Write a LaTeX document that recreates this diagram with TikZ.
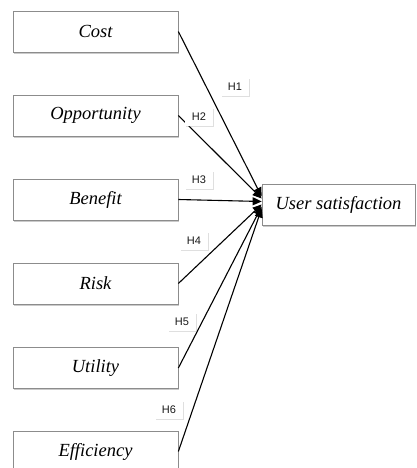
\documentclass[tikz,border=0pt]{standalone}
\usepackage{fontspec}
\setmainfont{Liberation Serif}
\newfontfamily\hfont{Liberation Sans}
\usetikzlibrary{arrows.meta,shadows}
\begin{document}
\begin{tikzpicture}[x=1pt,y=-1pt,
  varbox/.style={draw=black!45, line width=0.7pt, fill=white, minimum width=165pt, minimum height=41pt, inner sep=0pt,
    font=\fontsize{18.5}{20}\selectfont\itshape,
    drop shadow={shadow xshift=1.2pt, shadow yshift=-1.6pt, opacity=0.35, fill=black!60}},
  hlabel/.style={fill=white, minimum width=28pt, minimum height=18pt, inner sep=0pt,
    font=\hfont\fontsize{11}{12}\selectfont, text=black!90,
    drop shadow={shadow xshift=1pt, shadow yshift=-1.4pt, opacity=0.25, fill=black!50}},
  link/.style={line width=1.1pt, -{Triangle[length=9pt,width=8pt]}}
]
\useasboundingbox (0,0) rectangle (416,468);
\clip (0,0) rectangle (416,468);
\node[varbox] (cost) at (95.5,31.5) {Cost};
\node[varbox] (opp) at (95.5,115.5) {Opportunity};
\node[varbox] (ben) at (95.5,199.5) {Benefit};
\node[varbox] (risk) at (95.5,283.5) {Risk};
\node[varbox] (util) at (95.5,368) {Utility};
\node[varbox] (eff) at (95.5,451.5) {Efficiency};
\node[varbox, minimum width=153pt] (us) at (338.5,204.5) {User satisfaction};

\draw[link] (cost.east) -- ([yshift=8pt]us.west);
\draw[link] (opp.east) -- ([yshift=6pt]us.west);
\draw[link] (ben.east) -- ([yshift=3pt]us.west);
\draw[link] (risk.east) -- ([yshift=0pt]us.west);
\draw[link] (util.east) -- ([yshift=-2pt]us.west);
\draw[link] (eff.east) -- ([yshift=-4pt]us.west);

\node[hlabel] (h1) at (235,87) {H1};
\node[hlabel] (h2) at (199,117) {H2};
\node[hlabel] (h3) at (199,180) {H3};
\node[hlabel] (h4) at (194,241) {H4};
\node[hlabel] (h5) at (182,322) {H5};
\node[hlabel] (h6) at (169,410) {H6};
\end{tikzpicture}
\end{document}
